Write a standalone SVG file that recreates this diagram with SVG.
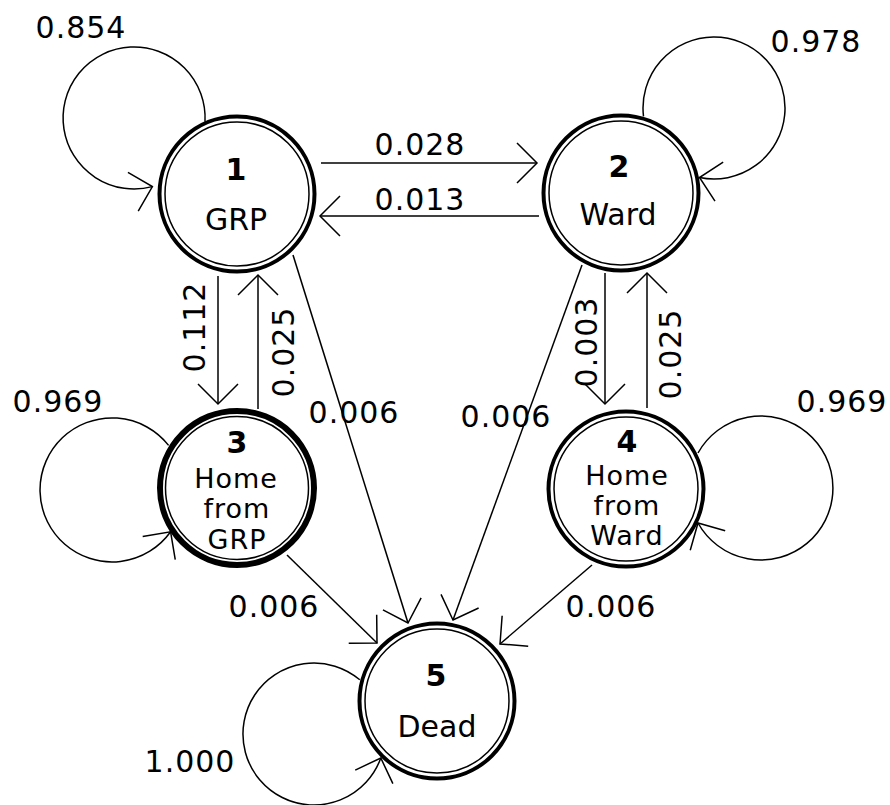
<svg xmlns="http://www.w3.org/2000/svg" width="890" height="805" viewBox="0 0 890 805">
<style>
.ring-o{fill:#fff;stroke:#000;stroke-width:4}
.ring-thick{stroke-width:6}
.ring-i{fill:none;stroke:#000;stroke-width:1.5}
.num{font-family:"DejaVu Sans","Liberation Sans",sans-serif;font-size:30px;font-weight:bold;text-anchor:middle;fill:#000}
.name{font-family:"DejaVu Sans","Liberation Sans",sans-serif;font-size:30px;text-anchor:middle;fill:#000}
.name3{font-family:"DejaVu Sans","Liberation Sans",sans-serif;font-size:27px;letter-spacing:1px;text-anchor:middle;fill:#000}
.lbl{font-family:"DejaVu Sans","Liberation Sans",sans-serif;font-size:30px;text-anchor:middle;fill:#000;letter-spacing:1px}
.edge{fill:none;stroke:#000;stroke-width:1.5;marker-end:url(#arr)}
</style>
<defs>
<marker id="arr" markerUnits="userSpaceOnUse" viewBox="-25 -25 30 50" markerWidth="30" markerHeight="50" refX="0" refY="0" orient="auto" overflow="visible">
<path d="M -20 -20 L 0 0 L -20 20" fill="none" stroke="#000" stroke-width="1.5"/>
</marker>
</defs>
<rect width="890" height="805" fill="#fff"/>

<g id="node1">
<circle class="ring-o" cx="237" cy="194" r="77.5"/>
<circle class="ring-i" cx="237" cy="194" r="72"/>
<text class="num" x="236" y="180">1</text>
<text class="name" x="236" y="230">GRP</text>
</g>
<g id="node2">
<circle class="ring-o" cx="621" cy="193" r="77.5"/>
<circle class="ring-i" cx="621" cy="193" r="72"/>
<text class="num" x="619" y="177">2</text>
<text class="name" x="618" y="225">Ward</text>
</g>
<g id="node3">
<circle class="ring-o ring-thick" cx="237" cy="488" r="77"/>
<circle class="ring-i" cx="237" cy="488" r="71.5"/>
<text class="num" x="237" y="453">3</text>
<text class="name3" x="236" y="488">Home</text>
<text class="name3" x="237" y="518">from</text>
<text class="name3" x="237" y="549">GRP</text>
</g>
<g id="node4">
<circle class="ring-o" cx="626" cy="489" r="77.5"/>
<circle class="ring-i" cx="626" cy="489" r="72"/>
<text class="num" x="627" y="452">4</text>
<text class="name3" x="627" y="485">Home</text>
<text class="name3" x="627" y="515">from</text>
<text class="name3" x="627" y="545">Ward</text>
</g>
<g id="node5">
<circle class="ring-o" cx="437" cy="701" r="77.5"/>
<circle class="ring-i" cx="437" cy="701" r="72"/>
<text class="num" x="436" y="686">5</text>
<text class="name" x="437" y="737">Dead</text>
</g>

<g id="connectors">
<path class="edge" d="M 205 121.7 A 71 71 0 1 0 152.4 186.6"/>
<path class="edge" d="M 643.5 116.3 A 71 71 0 1 1 699.5 177.5"/>
<path class="edge" d="M 168.6 445.4 A 72 72 0 1 0 170.6 531.8"/>
<path class="edge" d="M 698 453 A 72 72 0 1 1 698 523"/>
<path class="edge" d="M 359.8 679.8 A 71 71 0 1 0 380.8 758"/>
<path class="edge" d="M 321 163 L 537 163"/>
<path class="edge" d="M 539 216 L 320 216"/>
<path class="edge" d="M 218 276 L 218 404"/>
<path class="edge" d="M 258 409 L 258 275"/>
<path class="edge" d="M 605 273 L 605 404"/>
<path class="edge" d="M 647 408 L 647 273"/>
<path class="edge" d="M 293 255 L 408 623"/>
<path class="edge" d="M 582 265 L 453 620"/>
<path class="edge" d="M 287 555 L 377 643"/>
<path class="edge" d="M 592 565 L 500 644"/>
<text class="lbl" x="81" y="38">0.854</text>
<text class="lbl" x="816" y="52">0.978</text>
<text class="lbl" x="420" y="155">0.028</text>
<text class="lbl" x="420" y="210">0.013</text>
<text class="lbl" transform="translate(205,327) rotate(-90)">0.112</text>
<text class="lbl" transform="translate(294,352) rotate(-90)">0.025</text>
<text class="lbl" transform="translate(597,342) rotate(-90)">0.003</text>
<text class="lbl" transform="translate(681,354) rotate(-90)">0.025</text>
<text class="lbl" x="354" y="423">0.006</text>
<text class="lbl" x="506" y="427">0.006</text>
<text class="lbl" x="58" y="412">0.969</text>
<text class="lbl" x="842" y="412">0.969</text>
<text class="lbl" x="274" y="617">0.006</text>
<text class="lbl" x="611" y="617">0.006</text>
<text class="lbl" x="190" y="772">1.000</text>
</g>
</svg>
